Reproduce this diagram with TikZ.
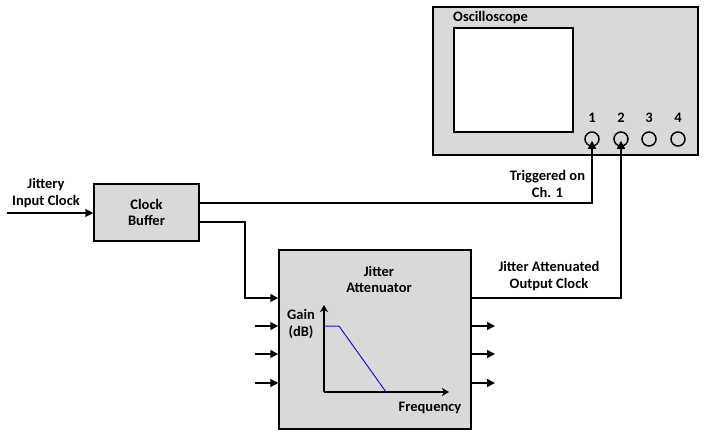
\documentclass[tikz,border=0pt]{standalone}
\usepackage{fontspec}
\setmainfont{Carlito}
\usetikzlibrary{arrows.meta,calc}

\tikzset{
  box/.style={draw,line width=1.5pt,fill=boxgray,inner sep=0pt},
  sig/.style={line width=1.5pt,-{Triangle[length=8pt,width=8pt]}},
  lbl/.style={align=center,font=\fontsize{14.5}{16.5}\selectfont\bfseries,inner sep=0pt},
  jack/.style={draw,circle,line width=1.5pt,minimum size=14pt,inner sep=0pt,fill=boxgray},
}
\definecolor{boxgray}{RGB}{217,217,217}
\definecolor{curveblue}{RGB}{20,20,230}

\begin{document}
\begin{tikzpicture}[x=1pt,y=-1pt]
  \useasboundingbox (0,0) rectangle (709,441);

  % Oscilloscope
  \node[box,minimum width=265pt,minimum height=148pt] (scope) at (565.5,81) {};
  \node[lbl,anchor=west] (scopename) at (453,18) {Oscilloscope};
  \node[draw,line width=1.5pt,fill=white,minimum width=119pt,minimum height=104pt] (screen) at (513.5,80) {};
  \foreach \n/\x in {1/592,2/621,3/649,4/678}{
    \node[jack] (ch\n) at (\x,139) {};
    \node[lbl] (num\n) at (\x,118) {\n};
  }

  % Clock buffer
  \node[box,lbl,minimum width=105pt,minimum height=57pt] (buf) at (146.5,212.5) {Clock\\Buffer};
  \coordinate (clkin) at (7,213);
  \node[lbl] (inlabel) at (46,193) {Jittery\\Input Clock};
  \draw[sig] (clkin) -- (clkin -| buf.west);

  % Jitter attenuator
  \node[box,minimum width=192pt,minimum height=179pt] (att) at (375,339.5) {};
  \node[lbl] (attname) at (379,279.5) {Jitter\\Attenuator};

  % buffer -> scope ch 1
  \draw[sig,shorten >=-6pt] ($(buf.east)+(0,-9.5)$) -| (ch1.south);
  \node[lbl] (trig) at (547.5,184) {Triggered on\\Ch. 1};

  % buffer -> attenuator
  \coordinate (bend) at (245,222);
  \draw[sig] ($(buf.east)+(0,9.5)$) -- (bend) |- (att.west |- 0,298);

  % other inputs and outputs
  \foreach \y in {326,354,383}{
    \draw[sig] (255,\y) -- (att.west |- 0,\y);
    \draw[sig] (att.east |- 0,\y) -- (495,\y);
  }

  % attenuator -> scope ch 2
  \draw[sig,shorten >=-6pt] (att.east |- 0,298) -| (ch2.south);
  \node[lbl] (outlabel) at (549,276) {Jitter Attenuated\\Output Clock};

  % gain plot
  \coordinate (origin) at (324,392);
  \draw[line width=1.3pt,-{Stealth[length=7pt,width=8pt,inset=2pt]}] (origin) -- (324,305);
  \draw[line width=1.3pt,-{Stealth[length=7pt,width=8pt,inset=2pt]}] (origin) -- (449,392);
  \draw[curveblue,line width=1pt] (324,326) -- (339,326) -- (386,392);
  \node[lbl] (gain) at (301,324) {Gain\\(dB)};
  \node[lbl] (freq) at (430,408) {Frequency};
\end{tikzpicture}
\end{document}
